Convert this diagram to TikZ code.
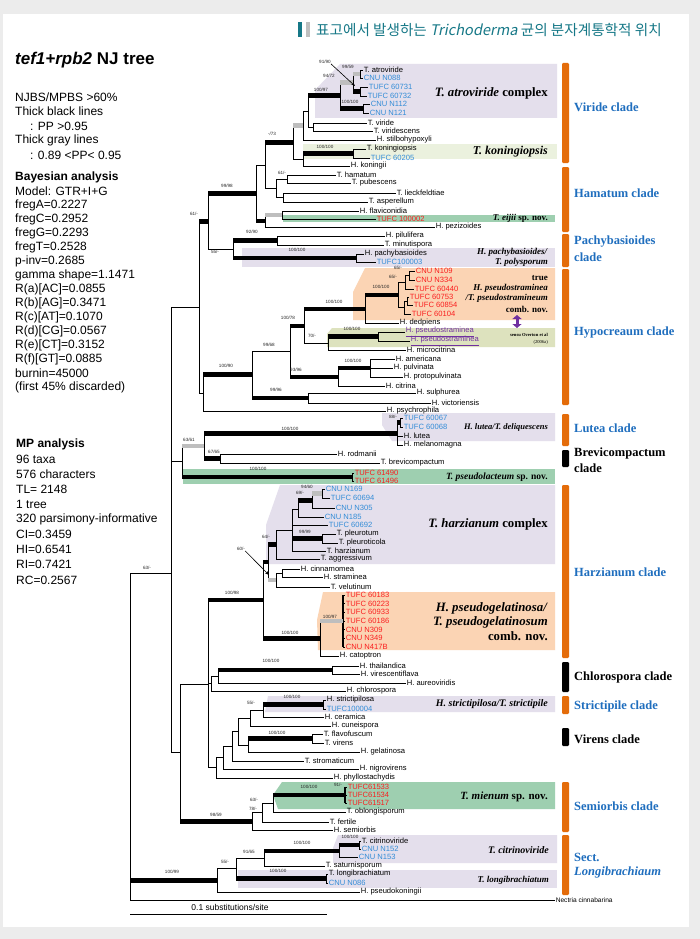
\documentclass[tikz,border=0pt]{standalone}
\usepackage{fontspec}
\setmainfont{Liberation Sans}
\newfontfamily\tnr{Liberation Serif}
\newfontfamily\krfont{Noto Sans CJK KR}
\newfontfamily\krit{Noto Sans CJK KR}[FakeSlant=0.2]
\usetikzlibrary{arrows.meta}
\definecolor{lav}{RGB}{228,223,236}
\definecolor{lgy}{RGB}{235,241,222}
\definecolor{grn}{RGB}{158,207,176}
\definecolor{pch}{RGB}{251,212,180}
\definecolor{khk}{RGB}{221,226,190}
\definecolor{org}{RGB}{228,108,10}
\definecolor{cblue}{RGB}{31,110,190}
\definecolor{lblue}{RGB}{50,140,215}
\definecolor{lred}{RGB}{250,30,30}
\definecolor{purp}{RGB}{112,48,160}
\definecolor{grayb}{RGB}{190,190,190}
\definecolor{hteal}{RGB}{22,120,135}
\definecolor{bgg}{RGB}{236,236,236}
\newcommand{\brn}[3][thn]{\draw[thn] (#2) -- (#2 |- #3); \draw[#1] (#2 |- #3) -- (#3);}
\newcommand{\leafn}[4][black]{\coordinate (#2) at (#3); \node[lf, text=#1] (#2l) at (#2) {#4};}
\newcounter{bsc}
\newcommand{\bsl}[2]{\stepcounter{bsc}\node[bs] (bs\thebsc) at (#1) {#2};}
\begin{document}
\begin{tikzpicture}[x=1pt,y=-1pt,
 thn/.style={line width=0.8pt},
 tk/.style={line width=4.8pt},
 tg/.style={line width=4.8pt, draw=grayb},
 lf/.style={font=\fontsize{7.6}{8}\selectfont, inner sep=0.6pt, anchor=west},
 bs/.style={font=\fontsize{4.6}{5}\selectfont, inner sep=0pt, text=black!85},
 bl/.style={font=\tnr\bfseries\fontsize{9}{10}\selectfont, anchor=east, inner sep=0pt},
 blg/.style={font=\tnr\bfseries\fontsize{12.8}{14}\selectfont, anchor=east, inner sep=0pt},
 rl/.style={font=\tnr\bfseries\fontsize{12.5}{14}\selectfont, text=cblue, anchor=west, inner sep=0pt},
 lt/.style={font=\fontsize{12}{13}\selectfont, anchor=west, inner sep=0pt}]
\useasboundingbox (0,0) rectangle (700,939);
\fill[bgg] (0,0) rectangle (700,939);
\fill[white] (3,14) rectangle (689,927);
% header
\fill[hteal] (298,22) rectangle (302,37);
\fill[black!25] (306,22) rectangle (310,37);
\node[anchor=west, inner sep=0pt, text=hteal] (hdr) at (316,30) {\krfont\fontsize{14.6}{16}\selectfont 표고에서 발생하는 {\krit Trichoderma} 균의 분자계통학적 위치};
% left text
\node[anchor=west, inner sep=0pt] (ttl) at (15,60) {\fontsize{17}{20}\selectfont\bfseries\textit{tef1+rpb2} NJ tree};
\foreach \t [count=\i] in {NJBS/MPBS >60\%, Thick black lines, \hspace*{15pt}: PP >0.95, Thick gray lines, \hspace*{15pt}: 0.89 <PP< 0.95}
 \node[lt] (la\i) at (15,{97+(\i-1)*14.5}) {\t};
\foreach \t [count=\i] in {\textbf{Bayesian analysis}, Model: GTR+I+G, fregA=0.2227, fregC=0.2952, fregG=0.2293, fregT=0.2528, p-inv=0.2685, gamma shape=1.1471, R(a)[AC]=0.0855, R(b)[AG]=0.3471, R(c)[AT]=0.1070, R(d)[CG]=0.0567, R(e)[CT]=0.3152, R(f)[GT]=0.0885, burnin=45000, (first 45\% discarded)}
 \node[lt] (lb\i) at (15,{177+(\i-1)*14.0}) {\t};
\foreach \t [count=\i] in {\textbf{MP analysis}, 96 taxa, 576 characters, TL= 2148, 1 tree, 320 parsimony-informative, CI=0.3459, HI=0.6541, RI=0.7421, RC=0.2567}
 \node[lt] (lc\i) at (16,{444+(\i-1)*15.1}) {\t};
% bands
\fill[lav] (315,90) -- (340,64) -- (557,64) -- (557,118) -- (315,118) -- cycle;
\fill[lgy] (303,144) rectangle (557,159);
\fill[grn] (283,215) rectangle (555,222);
\fill[lav] (242,248) rectangle (555,267);
\fill[pch] (365,268) -- (555,268) -- (555,320) -- (353,320) -- (353,292) -- cycle;
\fill[khk] (332,328) -- (555,328) -- (555,347) -- (327,347) -- (327,334) -- cycle;
\fill[lav] (382,413) -- (555,413) -- (555,441) -- (392,441) -- (382,425) -- cycle;
\fill[grn] (183,469) rectangle (555,484);
\fill[lav] (280,485) -- (555,485) -- (555,564) -- (266,564) -- (266,525) -- cycle;
\fill[pch] (323,592) -- (555,592) -- (555,650) -- (318,650) -- (317,620) -- cycle;
\fill[lav] (268,696) -- (555,696) -- (555,712) -- (265,712) -- cycle;
\fill[grn] (282,782) -- (555,782) -- (555,809) -- (278,809) -- (273,795) -- cycle;
\fill[lav] (338,835) -- (557,835) -- (557,863) -- (333,863) -- (333,848) -- cycle;
\fill[lav] (238,870) rectangle (557,888);
% ---- Viride
\leafn{atro}{363,70}{T. atroviride}
\leafn[lblue]{n088}{363,78}{CNU N088}
\leafn[lblue]{t731}{368,87}{TUFC 60731}
\leafn[lblue]{t732}{367,96}{TUFC 60732}
\leafn[lblue]{n112}{370,104}{CNU N112}
\leafn[lblue]{n121}{369,113}{CNU N121}
\leafn{vir}{367,123}{T. viride}
\leafn{virsc}{373,131}{T. viridescens}
\leafn{stil}{376,140}{H. stilbohypoxyli}
\leafn{konp}{366,149}{T. koningiopsis}
\leafn[lblue]{t205}{370,158}{TUFC 60205}
\leafn{koni}{350,166}{H. koningii}
\coordinate (A99) at (360,74);
\coordinate (A91) at (360,91.5);
\coordinate (AT1) at (353,82.75);
\coordinate (AN) at (363,108.5);
\coordinate (AT) at (340,95.6);
\coordinate (VV) at (313,127);
\coordinate (VB) at (308,111.3);
\coordinate (VA) at (303,125.7);
\coordinate (KK) at (353,153.5);
\coordinate (VK) at (303,159.75);
\coordinate (V) at (293,142.7);
\brn{A99}{atro}\brn{A99}{n088}
\brn{A91}{t731}\brn{A91}{t732}
\brn[tg]{AT1}{A99}\brn[tk]{AT1}{A91}
\brn{AN}{n112}\brn{AN}{n121}
\brn[tg]{AT}{AT1}\brn[tk]{AT}{AN}
\brn{VV}{vir}\brn{VV}{virsc}
\brn[tk]{VB}{AT}\brn{VB}{VV}
\brn{VA}{VB}\brn{VA}{stil}
\brn{KK}{konp}\brn{KK}{t205}
\brn[tk]{VK}{KK}\brn{VK}{koni}
\brn[tg]{V}{VA}\brn{V}{VK}
% ---- Hamatum
\leafn{hama}{336,175}{T. hamatum}
\leafn{pube}{351,183}{T. pubescens}
\leafn{lieck}{396,193}{T. lieckfeldtiae}
\leafn{aspe}{368,202}{T. asperellum}
\leafn{flav}{359,211}{H. flaviconidia}
\leafn[lred]{t002}{376,219}{TUFC 100002}
\leafn{pezi}{435,227}{H. pezizoides}
\coordinate (hB) at (287,179);
\coordinate (hC) at (283,197.5);
\coordinate (Ham) at (276,188.25);
\coordinate (VH) at (265,165.5);
\coordinate (EJ1) at (282,215);
\coordinate (E0) at (265,221);
\coordinate (U) at (256,193.25);
\brn{hB}{hama}\brn{hB}{pube}\brn{hC}{lieck}\brn{hC}{aspe}
\brn{Ham}{hB}\brn{Ham}{hC}
\brn[tk]{VH}{V}\brn{VH}{Ham}
\brn{EJ1}{flav}\brn{EJ1}{t002}
\brn[tg]{E0}{EJ1}\brn{E0}{pezi}
\brn{U}{VH}\brn[tk]{U}{E0}
% ---- Pachybasioides
\leafn{pilu}{385,236}{H. pilulifera}
\leafn{minu}{384,245}{T. minutispora}
\leafn{pach}{364,254}{H. pachybasioides}
\leafn[lblue]{t003}{376,262}{TUFC100003}
\coordinate (PP) at (277,240.5);
\coordinate (PH) at (356,258);
\coordinate (P0) at (233,249.25);
\coordinate (N208) at (208,221.25);
\brn{PP}{pilu}\brn{PP}{minu}\brn{PH}{pach}\brn{PH}{t003}
\brn[tk]{P0}{PP}\brn[tk]{P0}{PH}
\brn[tk]{N208}{U}\brn{N208}{P0}
% ---- Hypocreanum
\leafn[lred]{n109}{415,271}{CNU N109}
\leafn[lred]{n334}{415,280}{CNU N334}
\leafn[lred]{t440}{414,289}{TUFC 60440}
\leafn[lred]{t753}{409,297}{TUFC 60753}
\leafn[lred]{t854}{413,305}{TUFC 60854}
\leafn[lred]{t104}{411,314}{TUFC 60104}
\leafn{dedp}{399,323}{H. dedpiens}
\leafn[purp]{ps1}{405,332}{\underline{H. pseudostraminea}}
\leafn[purp]{ps2}{410,341}{\underline{H. pseudostraminea}}
\leafn{micr}{406,350}{H. microcitrina}
\leafn{amer}{395,359}{H. americana}
\leafn{pulv}{393,368}{H. pulvinata}
\leafn{prot}{403,377}{H. protopulvinata}
\leafn{citr}{385,386}{H. citrina}
\leafn{sulp}{416,393}{H. sulphurea}
\leafn{vict}{431,403}{H. victoriensis}
\leafn{psyc}{386,411}{H. psychrophila}
\coordinate (Q1) at (409,275.5);
\coordinate (Q2) at (405,282.25);
\coordinate (Q4) at (407,301);
\coordinate (Q3) at (404,307.5);
\coordinate (Q0) at (398,294.9);
\coordinate (Q) at (365,308.9);
\coordinate (PS) at (378,336.5);
\coordinate (R2) at (328,343.25);
\coordinate (R1) at (304,326);
\coordinate (AM1) at (370,368);
\coordinate (AM2) at (338,377);
\coordinate (N290) at (290,351.5);
\coordinate (SV) at (308,398);
\coordinate (N252) at (252,374.75);
\coordinate (HY) at (203,392.9);
\coordinate (N199) at (199,307);
\brn{Q1}{n109}\brn{Q1}{n334}\brn{Q2}{Q1}\brn{Q2}{t440}
\brn{Q4}{t753}\brn{Q4}{t854}\brn{Q3}{Q4}\brn{Q3}{t104}
\brn{Q0}{Q2}\brn{Q0}{Q3}
\brn[tk]{Q}{Q0}\brn{Q}{dedp}
\brn{PS}{ps1}\brn{PS}{ps2}
\brn[tk]{R2}{PS}\brn{R2}{micr}
\brn[tk]{R1}{Q}\brn{R1}{R2}
\brn{AM1}{amer}\brn{AM1}{pulv}\brn{AM1}{prot}
\brn[tk]{AM2}{AM1}\brn{AM2}{citr}
\brn[tk]{N290}{R1}\brn[tk]{N290}{AM2}
\brn{SV}{sulp}\brn{SV}{vict}
\brn{N252}{N290}\brn[tk]{N252}{SV}
\brn[tk]{HY}{N252}\brn{HY}{psyc}
\brn[tk]{N199}{N208}\brn{N199}{HY}
% ---- Lutea, Brevicompactum, pseudolacteum
\leafn[lblue]{t067}{403,418}{TUFC 60067}
\leafn[lblue]{t068}{403,427}{TUFC 60068}
\leafn{lute}{403,436}{H. lutea}
\leafn{mela}{403,445}{H. melanomagna}
\leafn{rodm}{337,454}{H. rodmanii}
\leafn{brev}{380,463}{T. brevicompactum}
\leafn[lred]{t490}{354,473}{TUFC 61490}
\leafn[lred]{t496}{354,481}{TUFC 61496}
\coordinate (L1) at (400,422.5);
\coordinate (L0) at (397,433.5);
\coordinate (BV) at (220,458.5);
\coordinate (N204) at (204,446);
\coordinate (PL0) at (352,477);
\coordinate (N182) at (182,461.5);
\brn{L1}{t067}\brn{L1}{t068}
\brn[tk]{L0}{L1}\brn{L0}{lute}\brn{L0}{mela}
\brn{BV}{rodm}\brn{BV}{brev}
\brn[tk]{N204}{L0}\brn[tk]{N204}{BV}
\brn{PL0}{t490}\brn{PL0}{t496}
\brn[tg]{N182}{N204}\brn[tk]{N182}{PL0}
% ---- Harzianum
\leafn[lblue]{n169}{325,489}{CNU N169}
\leafn[lblue]{t694}{330,498}{TUFC 60694}
\leafn[lblue]{n305}{335,508}{CNU N305}
\leafn[lblue]{n185}{324,517}{CNU N185}
\leafn[lblue]{t692}{328,525}{TUFC 60692}
\leafn{pleu}{336,534}{T. pleurotum}
\leafn{pleuc}{338,543}{T. pleuroticola}
\leafn{harz}{326,551}{T. harzianum}
\leafn{aggr}{320,559}{T. aggressivum}
\leafn{cinn}{300,569}{H. cinnamomea}
\leafn{stra}{323,577}{H. straminea}
\leafn{velu}{330,587}{T. velutinum}
\leafn[lred]{g1}{345,595}{TUFC 60183}
\leafn[lred]{g2}{345,603.5}{TUFC 60223}
\leafn[lred]{g3}{345,612}{TUFC 60933}
\leafn[lred]{g4}{345,621}{TUFC 60186}
\leafn[lred]{g5}{345,629.5}{CNU N309}
\leafn[lred]{g6}{345,638}{CNU N349}
\leafn[lred]{g7}{345,647}{CNU N417B}
\leafn{cato}{339,656}{H. catoptron}
\coordinate (a1) at (322,493.5);
\coordinate (a2) at (312,500.75);
\coordinate (a3) at (298,508.9);
\coordinate (PLt) at (322,538.5);
\coordinate (a4) at (292,530);
\coordinate (a5) at (276,544.5);
\coordinate (CS2) at (282,573);
\coordinate (CS) at (276,580);
\coordinate (U1) at (268,562);
\coordinate (PG) at (343,621);
\coordinate (P) at (320,638.5);
\coordinate (HZ) at (263,600);
\brn{a1}{n169}\brn{a1}{t694}
\brn[tg]{a2}{a1}\brn{a2}{n305}
\brn[tk]{a3}{a2}\brn{a3}{n185}
\brn{PLt}{pleu}\brn{PLt}{pleuc}
\brn{a4}{a3}\brn{a4}{t692}\brn[tk]{a4}{PLt}\brn{a4}{harz}
\brn{a5}{a4}\brn{a5}{aggr}
\brn{CS2}{cinn}\brn{CS2}{stra}
\brn{CS}{CS2}\brn{CS}{velu}
\brn[tk]{U1}{a5}\brn[tg]{U1}{CS}
\foreach \g in {g1,g2,g3,g4,g5,g6,g7} {\brn{PG}{\g}}
\draw[line width=1.4pt] (PG |- g1) -- (PG |- g7);
\brn[tg]{P}{PG}\brn{P}{cato}
\brn[tk]{HZ}{U1}\brn[tk]{HZ}{P}
% ---- Chlorospora
\leafn{thai}{359,666}{H. thailandica}
\leafn{vire}{360,674}{H. virescentiflava}
\leafn{aure}{406,683}{H. aureoviridis}
\leafn{chlo}{346,691}{H. chlorospora}
\coordinate (TV) at (332,670);
\coordinate (A1) at (218,676.5);
\coordinate (A2) at (211,683.75);
\brn{TV}{thai}\brn{TV}{vire}
\brn[tk]{A1}{TV}\brn{A1}{aure}
\brn{A2}{A1}\brn{A2}{chlo}
% ---- Strictipile, Virens
\leafn{stri}{326,700}{H. strictipilosa}
\leafn[lblue]{t004}{326,709}{TUFC100004}
\leafn{cera}{324,717}{H. ceramica}
\leafn{cune}{331,726}{H. cuneispora}
\leafn{flvf}{323,734}{T. flavofuscum}
\leafn{vrns}{324,743}{T. virens}
\leafn{gela}{360,752}{H. gelatinosa}
\leafn{strm}{304,761}{T. stromaticum}
\leafn{nigr}{359,769}{H. nigrovirens}
\leafn{phyl}{333,778}{H. phyllostachydis}
\coordinate (SS) at (323,704.5);
\coordinate (ST1) at (263,710.75);
\coordinate (ST) at (250,718.4);
\coordinate (VF) at (312,738.5);
\coordinate (VR) at (248,745.25);
\coordinate (n1) at (238,731.8);
\coordinate (n2) at (232,746.4);
\coordinate (n3) at (223,757.7);
\coordinate (n4) at (216,767.8);
\coordinate (K) at (208,684);
\brn{SS}{stri}\brn{SS}{t004}
\brn[tk]{ST1}{SS}\brn{ST1}{cera}
\brn{ST}{ST1}\brn{ST}{cune}
\brn{VF}{flvf}\brn{VF}{vrns}
\brn[tk]{VR}{VF}\brn{VR}{gela}
\brn{n1}{ST}\brn{n1}{VR}
\brn{n2}{n1}\brn{n2}{strm}
\brn{n3}{n2}\brn{n3}{nigr}
\brn{n4}{n3}\brn{n4}{phyl}
\brn[tk]{K}{HZ}\brn{K}{A2}\brn{K}{n4}
% ---- Semiorbis
\leafn[lred]{t533}{347,787}{TUFC61533}
\leafn[lred]{t534}{347,795}{TUFC61534}
\leafn[lred]{t517}{347,803}{TUFC61517}
\leafn{oblo}{346,812}{T. oblongisporum}
\leafn{fert}{329,822}{T. fertile}
\leafn{semi}{333,830}{H. semiorbis}
\coordinate (MI) at (345,795);
\coordinate (SM2) at (273,803.5);
\coordinate (SM1) at (262,812.75);
\coordinate (SM) at (252,821.4);
\coordinate (N180) at (180,752.7);
\coordinate (B1) at (171,573);
\brn{MI}{t533}\brn{MI}{t534}\brn{MI}{t517}
\draw[line width=1.4pt] (MI |- t533) -- (MI |- t517);
\brn[tk]{SM2}{MI}\brn{SM2}{oblo}
\brn{SM1}{SM2}\brn{SM1}{fert}
\brn{SM}{SM1}\brn{SM}{semi}
\brn{N180}{K}\brn[tk]{N180}{SM}
\brn{B1}{N199}\brn{B1}{N182}\brn{B1}{N180}
% ---- Longibrachiatum
\leafn{citv}{361,841}{T. citrinoviride}
\leafn[lblue]{n152}{361,849}{CNU N152}
\leafn[lblue]{n153}{358,857}{CNU N153}
\leafn{satu}{325,866}{T. saturnisporum}
\leafn{long}{328,874}{T. longibrachiatum}
\leafn[lblue]{n086}{328,883}{CNU N086}
\leafn{psko}{360,892}{H. pseudokoningii}
\coordinate (nect) at (555,900);
\node[anchor=west, inner sep=0.6pt, font=\fontsize{6.6}{7}\selectfont] (nectl) at (nect) {Nectria cinnabarina};
\coordinate (CT1) at (359,845);
\coordinate (CT0) at (339,851);
\coordinate (CS0) at (264,858.5);
\coordinate (LG) at (326,878.5);
\coordinate (LB1) at (236,868.5);
\coordinate (LB0) at (217,880.25);
\coordinate (R0) at (130,737);
\brn{CT1}{citv}\brn{CT1}{n152}
\brn[tk]{CT0}{CT1}\brn{CT0}{n153}
\brn[tk]{CS0}{CT0}\brn{CS0}{satu}
\brn{LG}{long}\brn{LG}{n086}
\brn{LB1}{CS0}\brn[tk]{LB1}{LG}
\brn{LB0}{LB1}\brn{LB0}{psko}
\brn{R0}{B1}\brn[tk]{R0}{LB0}\brn{R0}{nect}
% scale bar
\coordinate (sb1) at (130,914);
\coordinate (sb2) at (327,914);
\draw[line width=0.9pt] (sb1) -- (sb2);
\node[font=\fontsize{8.5}{9}\selectfont, inner sep=0pt] (sbl) at (230,907) {0.1 substitutions/site};
% support values
\bsl{325,62}{91/90}\bsl{348,67}{99/59}\bsl{329,76}{94/72}\bsl{321,90}{100/97}\bsl{350,102}{100/100}
\bsl{272,134}{-/73}\bsl{325,147}{100/100}\bsl{282,173}{61/-}\bsl{227,186}{99/98}\bsl{194,214}{61/-}
\bsl{252,232}{92/90}\bsl{215,252}{55/-}\bsl{297,250}{100/100}\bsl{398,268}{65/-}\bsl{393,277}{65/-}
\bsl{381,287}{100/100}\bsl{334,302}{100/100}\bsl{288,318}{100/78}\bsl{312,336}{70/-}\bsl{352,329}{100/100}
\bsl{269,345}{99/68}\bsl{353,361}{100/100}\bsl{296,370}{93/96}\bsl{226,366}{100/90}\bsl{276,390}{99/96}
\bsl{393,417}{88/-}\bsl{290,429}{100/100}\bsl{189,440}{63/61}\bsl{214,452}{67/65}\bsl{258,469}{100/100}
\bsl{307,487}{94/60}\bsl{300,493}{69/-}\bsl{305,532}{99/99}\bsl{266,537}{64/-}\bsl{241,549}{60/-}
\bsl{147,568}{63/-}\bsl{232,593}{100/98}\bsl{330,617}{100/97}\bsl{290,633}{100/100}\bsl{271,661}{100/100}
\bsl{251,703}{55/-}\bsl{292,697}{100/100}\bsl{277,733}{100/100}\bsl{338,785}{91/-}\bsl{309,787}{100/100}
\bsl{254,800}{63/-}\bsl{253,809}{78/-}\bsl{216,815}{98/59}\bsl{350,837}{100/100}\bsl{302,843}{100/100}
\bsl{249,852}{91/65}\bsl{225,862}{55/-}\bsl{278,871}{100/100}\bsl{172,872}{100/99}
\draw[thn, line width=0.6pt, -{Stealth[length=4pt,width=3pt]}] (bs1.south east) -- (355,86);
\draw[thn, line width=0.6pt, -{Stealth[length=4pt,width=3pt]}] (bs35.south east) -- (269,575);
% purple double arrow
\coordinate (pa1) at (517,315);
\coordinate (pa2) at (517,328);
\draw[purp, line width=3pt, {Triangle[width=9pt,length=4pt]}-{Triangle[width=9pt,length=4pt]}] (pa1) -- (pa2);
% band labels
\node[blg] (c1) at (548,93) {\textit{T. atroviride} complex};
\node[blg, font=\tnr\bfseries\fontsize{12}{14}\selectfont] (c2) at (548,152) {\textit{T. koningiopsis}};
\node[bl] (c3) at (548,218.5) {\textit{T. eijii} sp. nov.};
\node[bl] (c4) at (548,252) {\textit{H. pachybasioides/}};
\node[bl] (c5) at (548,262.5) {\textit{T. polysporum}};
\node[bl] (c6) at (548,278) {true};
\node[bl] (c7) at (548,288) {\textit{H. pseudostraminea}};
\node[bl] (c8) at (548,298.5) {\textit{/T. pseudostramineum}};
\node[bl] (c9) at (548,309) {comb. nov.};
\node[bl, font=\tnr\bfseries\fontsize{4.6}{5}\selectfont] (c10) at (548,335) {sensu Overton et al};
\node[bl, font=\tnr\fontsize{4.6}{5}\selectfont] (c11) at (548,342) {(2006a)};
\node[bl, font=\tnr\bfseries\fontsize{8.5}{10}\selectfont] (c12) at (548,427) {\textit{H. lutea/T. deliquescens}};
\node[bl, font=\tnr\bfseries\fontsize{9.5}{10}\selectfont] (c13) at (548,477) {\textit{T. pseudolacteum} sp. nov.};
\node[blg] (c14) at (548,524) {\textit{T. harzianum} complex};
\node[blg] (c15) at (548,608) {\textit{H. pseudogelatinosa/}};
\node[blg] (c16) at (548,622) {\textit{T. pseudogelatinosum}};
\node[blg] (c17) at (548,636) {comb. nov.};
\node[bl, font=\tnr\bfseries\fontsize{10}{11}\selectfont] (c18) at (548,704) {\textit{H. strictipilosa/T. strictipile}};
\node[bl, font=\tnr\bfseries\fontsize{11}{12}\selectfont] (c19) at (548,797) {\textit{T. mienum} sp. nov.};
\node[bl, font=\tnr\bfseries\fontsize{10}{11}\selectfont] (c20) at (549,850) {\textit{T. citrinoviride}};
\node[bl] (c21) at (549,880) {\textit{T. longibrachiatum}};
% right bars
\fill[org, rounded corners=1.2pt] (562,63) rectangle (569,163);
\fill[org, rounded corners=1.2pt] (562,167) rectangle (569,232);
\fill[org, rounded corners=1.2pt] (562,234) rectangle (569,267);
\fill[org, rounded corners=1.2pt] (562,269) rectangle (569,405);
\fill[org, rounded corners=1.2pt] (562,414) rectangle (569,446);
\fill[black, rounded corners=1.2pt] (562,450) rectangle (569,467);
\fill[org, rounded corners=1.2pt] (562,485) rectangle (569,658);
\fill[black, rounded corners=1.2pt] (562,662) rectangle (569,692);
\fill[org, rounded corners=1.2pt] (562,696) rectangle (569,714);
\fill[black, rounded corners=1.2pt] (562,728) rectangle (569,746);
\fill[org, rounded corners=1.2pt] (562,782) rectangle (569,832);
\fill[org, rounded corners=1.2pt] (562,835) rectangle (569,895);
% right clade labels
\node[rl] (r1) at (574,107) {Viride clade};
\node[rl] (r2) at (574,193) {Hamatum clade};
\node[rl] (r3) at (574,242) {Pachybasioides};
\node[rl] (r4) at (574,257) {clade};
\node[rl] (r5) at (574,333) {Hypocreaum clade};
\node[rl] (r6) at (574,428) {Lutea clade};
\node[rl, text=black] (r7) at (574,453) {Brevicompactum};
\node[rl, text=black] (r8) at (574,468) {clade};
\node[rl] (r9) at (574,572) {Harzianum clade};
\node[rl, text=black] (r10) at (574,677) {Chlorospora clade};
\node[rl] (r11) at (574,706) {Strictipile clade};
\node[rl, text=black] (r12) at (574,739) {Virens clade};
\node[rl] (r13) at (574,806) {Semiorbis clade};
\node[rl] (r14) at (574,857) {Sect.};
\node[rl] (r15) at (574,872) {\textit{Longibrachiaum}};
\end{tikzpicture}
\end{document}
